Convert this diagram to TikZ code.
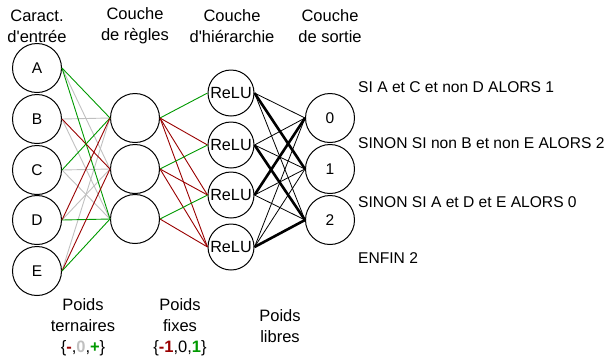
\documentclass[tikz,border=0pt]{standalone}
\usepackage{fontspec}
\setmainfont{Liberation Sans}[Ligatures=TeXOff]
\definecolor{pgreen}{HTML}{009900}
\definecolor{pred}{HTML}{990000}
\definecolor{pgray}{HTML}{C0C0C0}
\begin{document}
\begin{tikzpicture}[x=1pt,y=-1pt,
  neuron/.style={circle,draw=black,line width=1pt,minimum size=49pt,inner sep=0pt,font=\fontsize{15.5}{18}\selectfont},
  hneuron/.style={neuron,minimum size=46pt,font=\fontsize{16.2}{18}\selectfont},
  lbl/.style={align=center,inner sep=0pt,font=\fontsize{16.5}{21}\selectfont},
  rtxt/.style={anchor=west,inner sep=0pt,font=\fontsize{15.6}{18}\selectfont},
  wpos/.style={pgreen,line width=0.9pt},
  wneg/.style={pred,line width=0.9pt},
  wzero/.style={pgray,line width=0.9pt},
  wthin/.style={black,line width=0.8pt},
  wthick/.style={black,line width=2.6pt}]
\useasboundingbox (0,0) rectangle (610,360);
% input nodes
\node[neuron] (A) at (37,68) {A};
\node[neuron] (B) at (37,119) {B};
\node[neuron] (C) at (37,170) {C};
\node[neuron] (D) at (37,220) {D};
\node[neuron] (E) at (37,271) {E};
% rule nodes
\node[neuron] (R1) at (135,118) {};
\node[neuron] (R2) at (135,169) {};
\node[neuron] (R3) at (135,219) {};
% hierarchy nodes
\node[hneuron] (H1) at (231,93) {ReLU};
\node[hneuron] (H2) at (231,145) {ReLU};
\node[hneuron] (H3) at (231,195) {ReLU};
\node[hneuron] (H4) at (231,247) {ReLU};
% output nodes
\node[neuron] (O0) at (330,118) {0};
\node[neuron] (O1) at (330,169) {1};
\node[neuron] (O2) at (330,220) {2};
% ternary weights: zeros first
\draw[wzero] (A.east) -- (R2.west);
\draw[wzero] (B.east) -- (R1.west);
\draw[wzero] (B.east) -- (R3.west);
\draw[wzero] (C.east) -- (R2.west);
\draw[wzero] (C.east) -- (R3.west);
\draw[wzero] (D.east) -- (R2.west);
\draw[wzero] (E.east) -- (R1.west);
\draw[wpos] (A.east) -- (R1.west);
\draw[wpos] (A.east) -- (R3.west);
\draw[wneg] (B.east) -- (R2.west);
\draw[wpos] (C.east) -- (R1.west);
\draw[wneg] (D.east) -- (R1.west);
\draw[wpos] (D.east) -- (R3.west);
\draw[wneg] (E.east) -- (R2.west);
\draw[wpos] (E.east) -- (R3.west);
% fixed weights
\draw[wpos] (R1.east) -- (H1.west);
\draw[wneg] (R1.east) -- (H2.west);
\draw[wneg] (R1.east) -- (H3.west);
\draw[wneg] (R1.east) -- (H4.west);
\draw[wpos] (R2.east) -- (H2.west);
\draw[wneg] (R2.east) -- (H3.west);
\draw[wneg] (R2.east) -- (H4.west);
\draw[wpos] (R3.east) -- (H3.west);
\draw[wneg] (R3.east) -- (H4.west);
% free weights
\draw[wthin] (H1.east) -- (O0.west);
\draw[wthin] (H1.east) -- (O2.west);
\draw[wthin] (H2.east) -- (O0.west);
\draw[wthin] (H2.east) -- (O1.west);
\draw[wthin] (H3.east) -- (O1.west);
\draw[wthin] (H3.east) -- (O2.west);
\draw[wthin] (H4.east) -- (O0.west);
\draw[wthin] (H4.east) -- (O1.west);
\draw[wthick] (H1.east) -- (O1.west);
\draw[wthick] (H2.east) -- (O2.west);
\draw[wthick] (H3.east) -- (O0.west);
\draw[wthick] (H4.east) -- (O2.west);
% headings
\node[lbl] (t1) at (37,26) {Caract.\\d'entrée};
\node[lbl] (t2) at (135,26) {Couche\\de règles};
\node[lbl] (t3) at (232,26) {Couche\\d'hiérarchie};
\node[lbl] (t4) at (330,26) {Couche\\de sortie};
% bottom labels
\node[lbl] (b1) at (83,327) {Poids\\ternaires\\\{{\bfseries\color{pred}-},{\bfseries\color{pgray}0},{\bfseries\color{pgreen}+}\}};
\node[lbl] (b2) at (180,327) {Poids\\fixes\\\{{\bfseries\color{pred}-1},0,{\bfseries\color{pgreen}1}\}};
\node[lbl] (b3) at (280,326) {Poids\\libres};
% rules text
\node[rtxt] (s1) at (358,87) {SI A et C et non D ALORS 1};
\node[rtxt] (s2) at (358,143) {SINON SI non B et non E ALORS 2};
\node[rtxt] (s3) at (358,202) {SINON SI A et D et E ALORS 0};
\node[rtxt] (s4) at (358,258) {ENFIN 2};
\end{tikzpicture}
\end{document}
